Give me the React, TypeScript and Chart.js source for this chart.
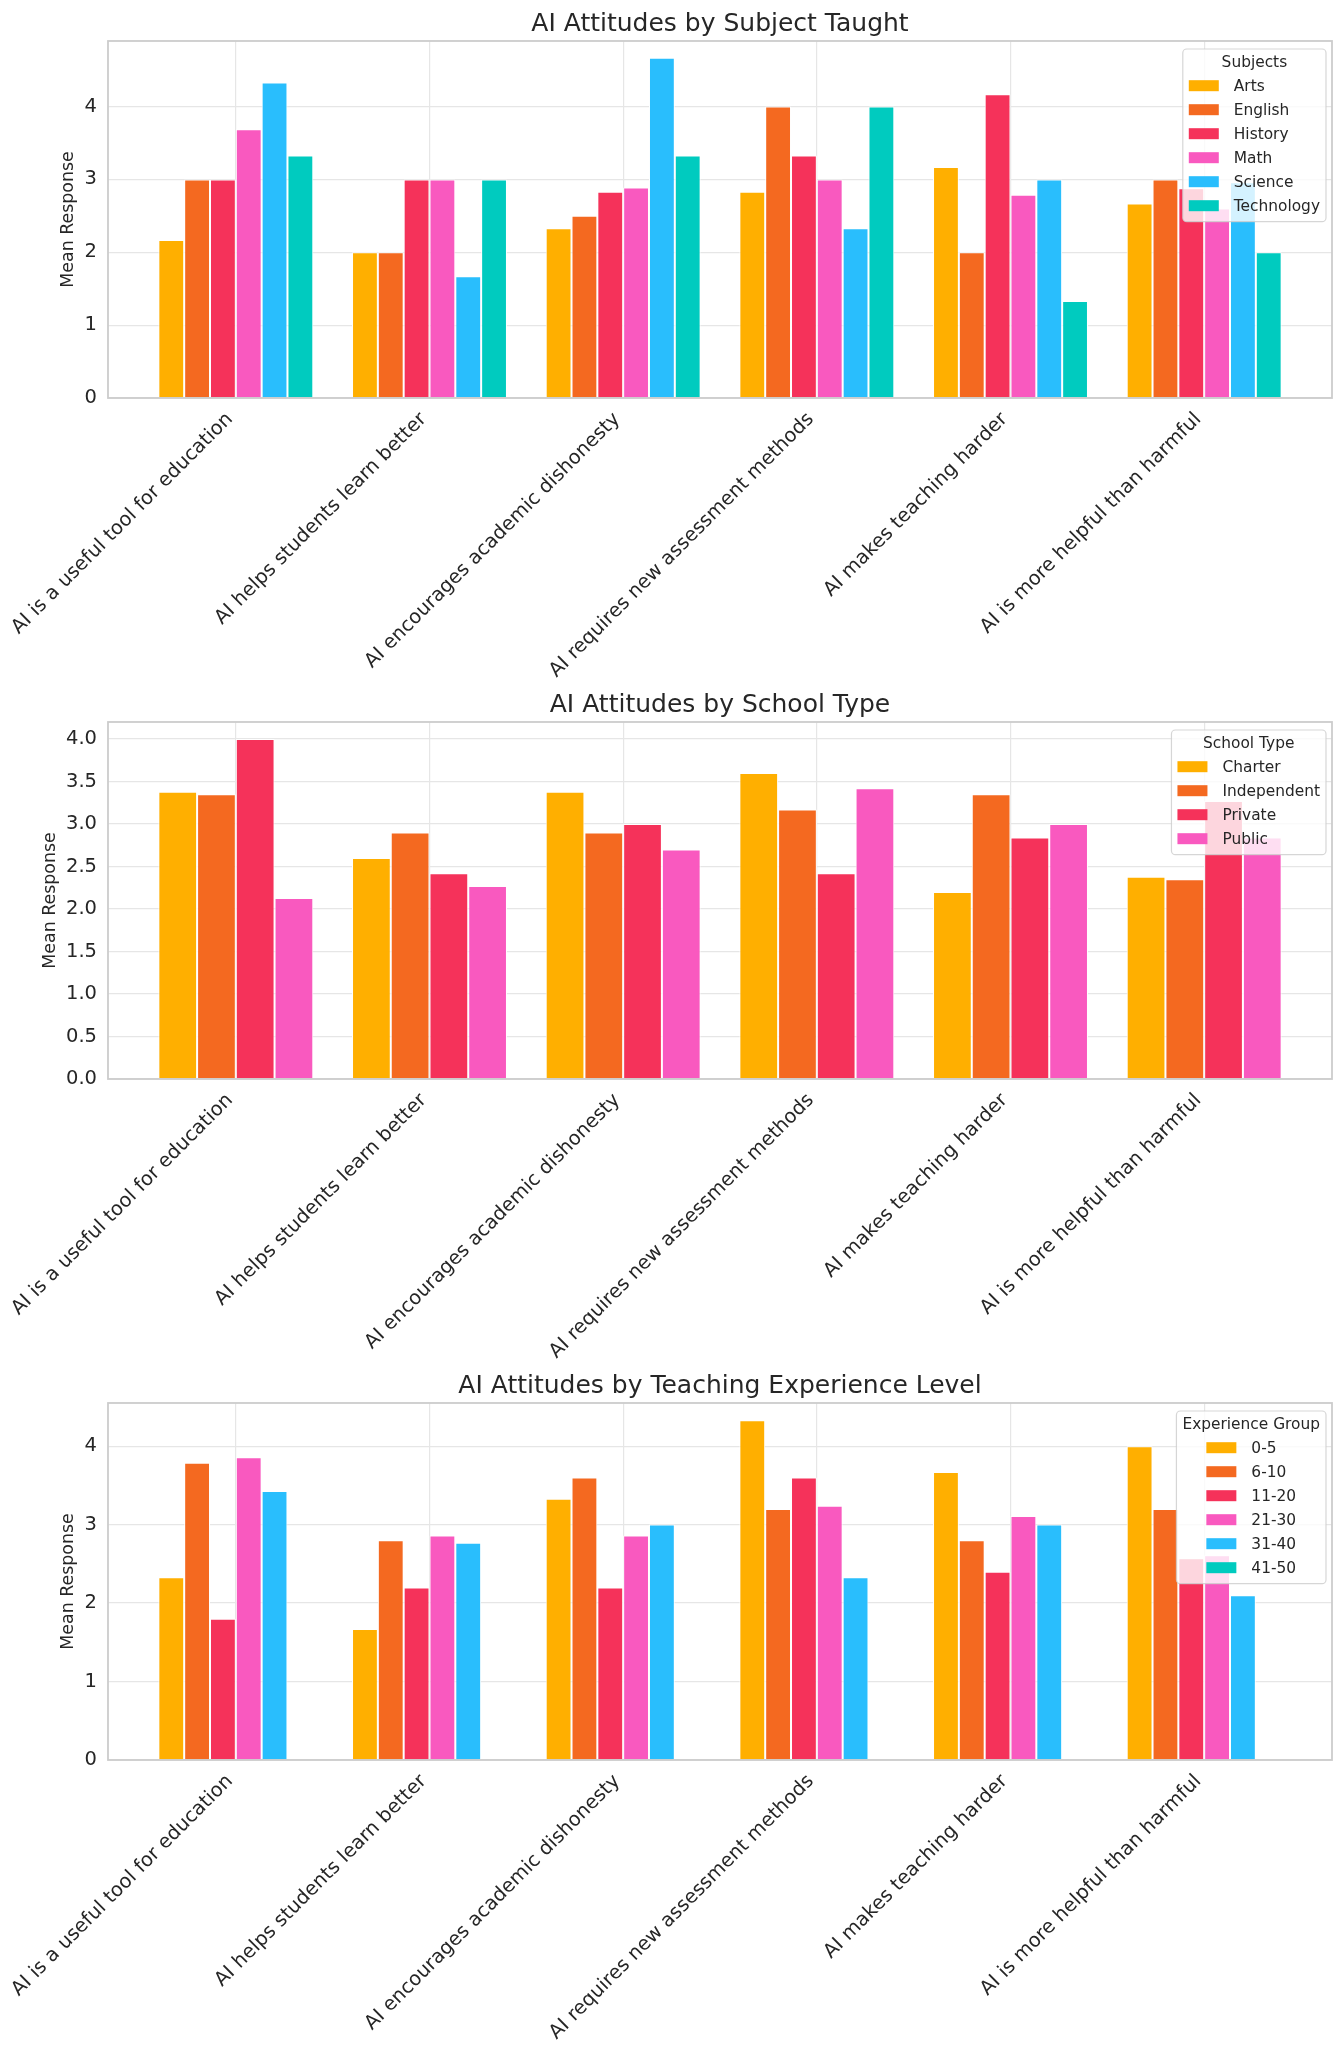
import React, { useEffect, useRef } from 'react';
import { Chart, registerables } from 'chart.js';

Chart.register(...registerables);
Chart.defaults.font.family = '"DejaVu Sans", sans-serif';

// ---------- data ----------
const statements = [
  'AI is a useful tool for education',
  'AI helps students learn better',
  'AI encourages academic dishonesty',
  'AI requires new assessment methods',
  'AI makes teaching harder',
  'AI is more helpful than harmful',
];

const subjects = ['Arts', 'English', 'History', 'Math', 'Science', 'Technology'];
const artsValues = [2.17, 2.0, 2.33, 2.83, 3.17, 2.67];
const englishValues = [3.0, 2.0, 2.5, 4.0, 2.0, 3.0];
const historyValues = [3.0, 3.0, 2.83, 3.33, 4.17, 2.88];
const mathValues = [3.69, 3.0, 2.89, 3.0, 2.79, 2.6];
const scienceValues = [4.33, 1.67, 4.67, 2.33, 3.0, 2.96];
const technologyValues = [3.33, 3.0, 3.33, 4.0, 1.33, 2.0];

const schoolTypes = ['Charter', 'Independent', 'Private', 'Public'];
const charterValues = [3.38, 2.6, 3.38, 3.6, 2.2, 2.38];
const independentValues = [3.35, 2.9, 2.9, 3.17, 3.35, 2.35];
const privateValues = [4.0, 2.42, 3.0, 2.42, 2.84, 3.27];
const publicValues = [2.13, 2.27, 2.7, 3.42, 3.0, 2.84];

const experienceGroups = ['0-5', '6-10', '11-20', '21-30', '31-40', '41-50'];
const exp0to5 = [2.33, 1.67, 3.33, 4.33, 3.67, 4.0];
const exp6to10 = [3.79, 2.8, 3.6, 3.2, 2.8, 3.2];
const exp11to20 = [1.8, 2.2, 2.2, 3.6, 2.4, 2.57];
const exp21to30 = [3.86, 2.86, 2.86, 3.24, 3.11, 2.61];
const exp31to40 = [3.43, 2.77, 3.0, 2.33, 3.0, 2.1];
const exp41to50: (number | null)[] = [null, null, null, null, null, null];

// ---------- styles ----------
const palette = ['#FFAF00', '#F46920', '#F5325A', '#F959BF', '#29BEFD', '#00CBBF'];
const textColor = '#262626';
const gridColor = '#e6e6e6';
const FONT = '"DejaVu Sans", sans-serif';

const decorPlugin = {
  id: 'decor',
  afterDatasetsDraw(chart: any, _args: any, opts: any) {
    const { ctx, chartArea: a } = chart;
    ctx.save();
    // frame (spines)
    ctx.strokeStyle = '#cccccc';
    ctx.lineWidth = 1.8;
    ctx.strokeRect(a.left, a.top, a.right - a.left, a.bottom - a.top);

    // legend
    const ds = chart.data.datasets;
    ctx.font = `15.4px ${FONT}`;
    const titleW = ctx.measureText(opts.legendTitle).width;
    let maxLab = 0;
    ds.forEach((d: any) => { maxLab = Math.max(maxLab, ctx.measureText(d.label).width); });
    const patchW = 30, gap = 15, padX = 6;
    const blockW = patchW + gap + maxLab;
    const innerW = Math.max(titleW, blockW);
    const boxW = innerW + padX * 2;
    const right = a.right - 6;
    const left = right - boxW;
    const top = a.top + 8;
    const rowStart = top + 36.7;
    const rowGap = 24;
    const bottom = rowStart + rowGap * (ds.length - 1) + 16;
    const r = 4;
    ctx.beginPath();
    ctx.moveTo(left + r, top);
    ctx.lineTo(right - r, top);
    ctx.arcTo(right, top, right, top + r, r);
    ctx.lineTo(right, bottom - r);
    ctx.arcTo(right, bottom, right - r, bottom, r);
    ctx.lineTo(left + r, bottom);
    ctx.arcTo(left, bottom, left, bottom - r, r);
    ctx.lineTo(left, top + r);
    ctx.arcTo(left, top, left + r, top, r);
    ctx.closePath();
    ctx.fillStyle = 'rgba(255,255,255,0.8)';
    ctx.fill();
    ctx.strokeStyle = 'rgba(204,204,204,0.8)';
    ctx.lineWidth = 1.2;
    ctx.stroke();

    ctx.fillStyle = textColor;
    ctx.textAlign = 'center';
    ctx.textBaseline = 'middle';
    ctx.fillText(opts.legendTitle, (left + right) / 2, top + 14);
    const bx = left + padX + (innerW - blockW) / 2;
    ds.forEach((d: any, i: number) => {
      const y = rowStart + rowGap * i;
      ctx.fillStyle = d.backgroundColor;
      ctx.fillRect(bx, y - 5.5, patchW, 11);
      ctx.fillStyle = textColor;
      ctx.textAlign = 'left';
      ctx.fillText(d.label, bx + patchW + gap, y + 1);
    });
    ctx.restore();
  },
  afterDraw(chart: any, _args: any, opts: any) {
    const { ctx, chartArea: a } = chart;
    ctx.save();
    ctx.fillStyle = textColor;
    ctx.font = `25px ${FONT}`;
    ctx.textAlign = 'center';
    ctx.textBaseline = 'alphabetic';
    ctx.fillText(opts.title, (a.left + a.right) / 2, a.top - 10);

    ctx.font = `17.4px ${FONT}`;
    ctx.translate(a.left - opts.yTitleGap, (a.top + a.bottom) / 2);
    ctx.rotate(-Math.PI / 2);
    ctx.textBaseline = 'middle';
    ctx.fillText('Mean Response', 0, 0);
    ctx.restore();
  },
};

type PanelProps = {
  title: string;
  legendTitle: string;
  labels: string[];
  series: (number | null)[][];
  yMax: number;
  yStep: number;
  decimals: number;
  yTitleGap: number;
  height: number;
};

function Panel(p: PanelProps) {
  const ref = useRef<HTMLCanvasElement>(null);
  useEffect(() => {
    const chart = new Chart(ref.current as HTMLCanvasElement, {
      type: 'bar',
      data: {
        datasets: p.labels.map((label, k) => ({
          label,
          data: p.series[k].map((v, i) => ({ x: i, y: v })) as any,
          backgroundColor: palette[k],
          borderColor: '#ffffff',
          borderWidth: 1,
          categoryPercentage: 0.8,
          barPercentage: 1,
        })),
      },
      options: {
        responsive: false,
        animation: false,
        devicePixelRatio: 1,
        layout: { padding: { top: 41, right: 12, left: 0, bottom: 0 } },
        plugins: {
          legend: { display: false },
          tooltip: { enabled: false },
          decor: { title: p.title, legendTitle: p.legendTitle, yTitleGap: p.yTitleGap },
        } as any,
        scales: {
          x: {
            type: 'linear',
            min: -0.66,
            max: 5.66,
            offset: false,
            afterBuildTicks: (s: any) => {
              s.ticks = statements.map((_, i) => ({ value: i }));
            },
            afterFit: (s: any) => {
              s.height = p.height - 398;
              s.paddingLeft = 0;
              s.paddingRight = 0;
            },
            grid: { offset: false, color: gridColor, lineWidth: 1.2, drawTicks: false },
            border: { display: false },
            ticks: {
              autoSkip: false,
              maxRotation: 45,
              minRotation: 45,
              padding: 10,
              labelOffset: -6,
              color: textColor,
              font: { size: 19.5 },
              callback: (v: any) => statements[Math.round(Number(v))] ?? '',
            },
          },
          y: {
            min: 0,
            max: p.yMax,
            afterFit: (s: any) => {
              s.width = 108;
              s.paddingTop = 0;
              s.paddingBottom = 0;
            },
            grid: { color: gridColor, lineWidth: 1.2, drawTicks: false },
            border: { display: false },
            ticks: {
              stepSize: p.yStep,
              includeBounds: false,
              padding: 11,
              color: textColor,
              font: { size: 19.5 },
              callback: (v: any) => Number(v).toFixed(p.decimals),
            },
          },
        } as any,
      },
      plugins: [decorPlugin as any],
    });
    return () => chart.destroy();
  }, []);
  return (
    <canvas
      ref={ref}
      width={1344}
      height={p.height}
      style={{ display: 'block', width: 1344, height: p.height }}
    />
  );
}

export default function App() {
  useEffect(() => {
    document.body.style.margin = '0';
    document.body.style.background = '#ffffff';
  }, []);
  return (
    <div style={{ width: 1344, background: '#ffffff' }}>
      <Panel
        title="AI Attitudes by Subject Taught"
        legendTitle="Subjects"
        labels={subjects}
        series={[artsValues, englishValues, historyValues, mathValues, scienceValues, technologyValues]}
        yMax={4.9}
        yStep={1}
        decimals={0}
        yTitleGap={40}
        height={681}
      />
      <Panel
        title="AI Attitudes by School Type"
        legendTitle="School Type"
        labels={schoolTypes}
        series={[charterValues, independentValues, privateValues, publicValues]}
        yMax={4.2}
        yStep={0.5}
        decimals={1}
        yTitleGap={58}
        height={681}
      />
      <Panel
        title="AI Attitudes by Teaching Experience Level"
        legendTitle="Experience Group"
        labels={experienceGroups}
        series={[exp0to5, exp6to10, exp11to20, exp21to30, exp31to40, exp41to50]}
        yMax={4.55}
        yStep={1}
        decimals={0}
        yTitleGap={40}
        height={686}
      />
    </div>
  );
}
